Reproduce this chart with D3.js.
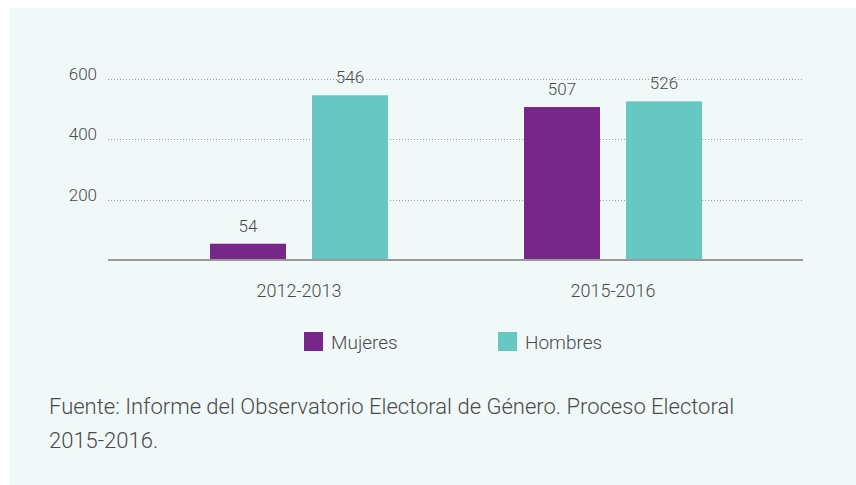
<!DOCTYPE html>
<html>
<head>
<meta charset="utf-8">
<script src="https://cdn.jsdelivr.net/npm/d3@7"></script>
<style>
  body { margin: 0; background: #fff; }
  svg text { font-family: Roboto, "Open Sans", sans-serif; font-weight: 300; fill: #4a4a4a; }
</style>
</head>
<body>
<div id="chart"></div>
<script>
const periods = ["2012-2013", "2015-2016"];
const seriesNames = ["Mujeres", "Hombres"];
const mujeres = [54, 507];
const hombres = [546, 526];
const yTicks = [200, 400, 600];
const colors = ["#77268a", "#67c7c3"];
const sourceLines = ["Fuente: Informe del Observatorio Electoral de Género. Proceso Electoral", "2015-2016."];

const w = 856, h = 485;
const svg = d3.select("#chart").append("svg").attr("width", w).attr("height", h);

// panel background
svg.append("rect").attr("x", 10).attr("y", 8).attr("width", w - 10).attr("height", h - 8).attr("fill", "#f0f9f8");

const left = 108, right = 803, bottom = 260;

const y = d3.scaleLinear().domain([0, 600]).range([bottom, 79]);
const x0 = d3.scaleBand().domain(periods).range([142, 770]);
const x1 = d3.scaleBand().domain(seriesNames).range([-89, 89]).paddingInner(0.255);

// gridlines
svg.append("g").selectAll("line")
  .data(yTicks).enter().append("line")
  .attr("x1", left).attr("x2", right)
  .attr("y1", d => Math.round(y(d)) + 0.5).attr("y2", d => Math.round(y(d)) + 0.5)
  .attr("stroke", "#9a9a9a").attr("stroke-width", 1).attr("stroke-dasharray", "1,2");

// y tick labels
svg.append("g").selectAll("text")
  .data(yTicks).enter().append("text")
  .attr("x", 97).attr("y", d => y(d) + 1)
  .attr("text-anchor", "end").style("font-size", "17px")
  .text(d => d);

const rows = periods.map((p, i) => ({ period: p, values: [mujeres[i], hombres[i]] }));

const groups = svg.append("g").selectAll("g")
  .data(rows).enter().append("g")
  .attr("transform", d => `translate(${x0(d.period) + x0.bandwidth() / 2},0)`);

groups.selectAll("rect")
  .data(d => d.values.map((v, j) => ({ name: seriesNames[j], value: v, color: colors[j] })))
  .enter().append("rect")
  .attr("x", d => x1(d.name))
  .attr("width", x1.bandwidth())
  .attr("y", d => y(d.value))
  .attr("height", d => bottom - y(d.value))
  .attr("fill", d => d.color);

groups.selectAll("text.val")
  .data(d => d.values.map((v, j) => ({ name: seriesNames[j], value: v })))
  .enter().append("text")
  .attr("class", "val")
  .attr("x", d => x1(d.name) + x1.bandwidth() / 2)
  .attr("y", d => y(d.value) - 12)
  .attr("text-anchor", "middle").style("font-size", "17px")
  .text(d => d.value);

// baseline
svg.append("line")
  .attr("x1", left).attr("x2", right).attr("y1", bottom).attr("y2", bottom)
  .attr("stroke", "#999").attr("stroke-width", 2);

// x axis labels
svg.append("g").selectAll("text")
  .data(periods).enter().append("text")
  .attr("x", d => x0(d) + x0.bandwidth() / 2)
  .attr("y", 297)
  .attr("text-anchor", "middle").style("font-size", "18px")
  .text(d => d);

// legend
const legendX = [304, 498];
const legend = svg.append("g").selectAll("g")
  .data(seriesNames).enter().append("g")
  .attr("transform", (d, i) => `translate(${legendX[i]},332)`);
legend.append("rect").attr("width", 19).attr("height", 19).attr("fill", (d, i) => colors[i]);
legend.append("text").attr("x", 27).attr("y", 17).style("font-size", "19px").text(d => d);

// source
svg.append("g").selectAll("text")
  .data(sourceLines).enter().append("text")
  .attr("x", 49).attr("y", (d, i) => 414 + i * 34)
  .style("font-size", "22px")
  .text(d => d);
</script>
</body>
</html>
